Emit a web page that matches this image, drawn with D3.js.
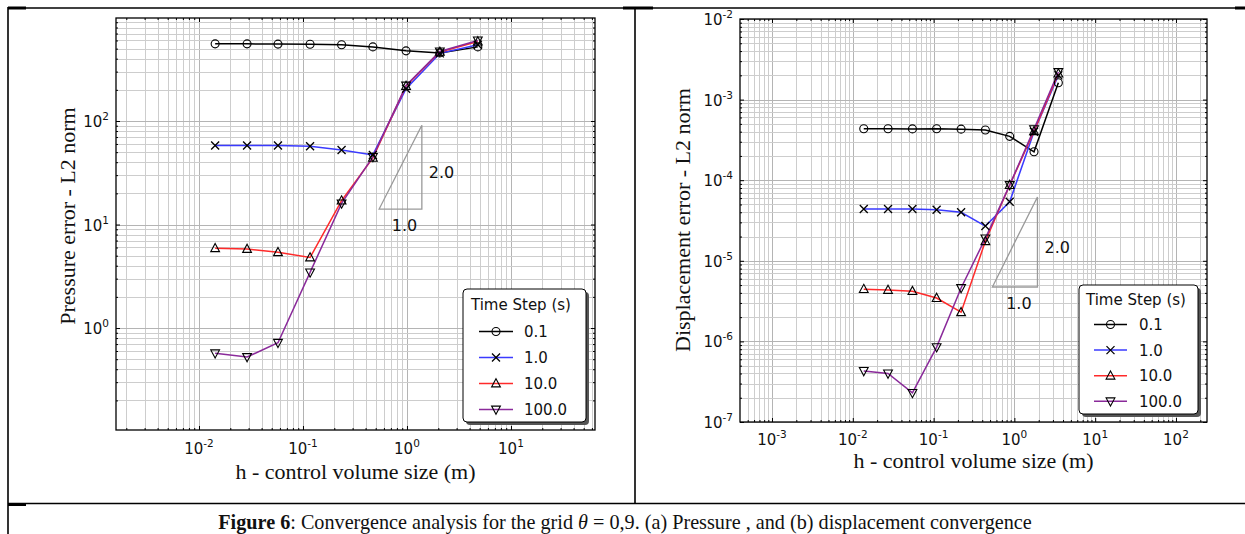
<!DOCTYPE html>
<html>
<head>
<meta charset="utf-8">
<script src="https://cdn.jsdelivr.net/npm/d3@7"></script>
<style>
  body { margin: 0; background: #fff; }
  svg text { font-family: "DejaVu Sans", sans-serif; fill: #111; }
  svg text.serif { font-family: "Liberation Serif", "Times New Roman", serif; }
</style>
</head>
<body>
<svg id="fig" width="1245" height="534"></svg>
<script>
// ---------- data ----------
const seriesNames = ["0.1", "1.0", "10.0", "100.0"];
const seriesColors = ["#000000", "#3a3aff", "#ff2a2a", "#8a2a9a"];
const seriesMarkers = ["circle", "cross", "triUp", "triDown"];

// (a) pressure
const hPressure = [0.0143, 0.029, 0.0575, 0.117, 0.235, 0.47, 0.98, 2.07, 4.8];
const pressure01 = [556, 556, 553, 551, 546, 520, 476, 455, 520];
const pressure1 = [58, 58, 58, 57, 52.5, 47, 205, 450, 545];
const pressure10 = [5.9, 5.8, 5.4, 4.8, 17, 44, 218, 465, 585];
const pressure100 = [0.57, 0.525, 0.72, 3.45, 16, 45, 220, 470, 600];

// (b) displacement
const hDisp = [0.01367, 0.0273, 0.0547, 0.109, 0.219, 0.4375, 0.875, 1.75, 3.5];
const disp01 = [4.35e-4, 4.35e-4, 4.33e-4, 4.35e-4, 4.3e-4, 4.2e-4, 3.5e-4, 2.25e-4, 1.62e-3];
const disp1 = [4.4e-5, 4.4e-5, 4.4e-5, 4.3e-5, 4.0e-5, 2.7e-5, 5.4e-5, 4.0e-4, 2.0e-3];
const disp10 = [4.45e-6, 4.35e-6, 4.2e-6, 3.45e-6, 2.3e-6, 1.75e-5, 8.7e-5, 4.05e-4, 2.1e-3];
const disp100 = [4.3e-7, 4.0e-7, 2.3e-7, 8.5e-7, 4.6e-6, 1.9e-5, 8.7e-5, 4.3e-4, 2.2e-3];

// slope triangles: [x0, x1], [y0, y1]
const slopePressureX = [0.54, 1.39], slopePressureY = [14.1, 91];
const slopeDispX = [0.534, 1.93], slopeDispY = [4.73e-6, 6.2e-5];

const svg = d3.select("#fig");

function drawMarker(sel, type) {
  if (type === "circle") {
    sel.append("circle").attr("r", 4).attr("fill", "none")
      .attr("stroke", "#000").attr("stroke-width", 1.1);
  } else if (type === "cross") {
    sel.append("path").attr("d", "M-4,-4L4,4M-4,4L4,-4")
      .attr("stroke", "#000").attr("stroke-width", 1.3).attr("fill", "none");
  } else if (type === "triUp") {
    sel.append("path").attr("d", "M0,-4.8L4.4,3.4L-4.4,3.4Z")
      .attr("stroke", "#000").attr("stroke-width", 1.1).attr("fill", "none");
  } else {
    sel.append("path").attr("d", "M0,4.8L4.4,-3.4L-4.4,-3.4Z")
      .attr("stroke", "#000").attr("stroke-width", 1.1).attr("fill", "none");
  }
}

function supLabel(sel, v) {
  const e = Math.round(Math.log10(v));
  sel.text(null);
  sel.append("tspan").text("10");
  sel.append("tspan").attr("font-size", 10.5).attr("dy", -7).text(e);
}

function drawPanel(cfg) {
  const b = cfg.box;
  const x = d3.scaleLog().domain(cfg.xDomain).range([b.left, b.right]);
  const y = d3.scaleLog().domain(cfg.yDomain).range([b.bottom, b.top]);
  const isMajor = (v) => Math.abs(Math.log10(v) - Math.round(Math.log10(v))) < 1e-9;

  const g = svg.append("g");
  const xt = x.ticks().filter((v) => x(v) >= b.left - 0.5 && x(v) <= b.right + 0.5);
  const yt = y.ticks().filter((v) => y(v) >= b.top - 0.5 && y(v) <= b.bottom + 0.5);

  // grid
  const grid = g.append("g");
  grid.selectAll(".gx").data(xt).join("line")
    .attr("x1", (d) => Math.round(x(d)) + 0.5).attr("x2", (d) => Math.round(x(d)) + 0.5)
    .attr("y1", b.top).attr("y2", b.bottom)
    .attr("stroke", (d) => (isMajor(d) ? "#b4b4b4" : "#cdcdcd")).attr("stroke-width", 1);
  grid.selectAll(".gy").data(yt).join("line")
    .attr("y1", (d) => Math.round(y(d)) + 0.5).attr("y2", (d) => Math.round(y(d)) + 0.5)
    .attr("x1", b.left).attr("x2", b.right)
    .attr("stroke", (d) => (isMajor(d) ? "#b4b4b4" : "#cdcdcd")).attr("stroke-width", 1);

  // series
  const line = d3.line().x((d) => x(d[0])).y((d) => y(d[1]));
  cfg.series.forEach((vals, i) => {
    const pts = cfg.h.map((h, j) => [h, vals[j]]);
    g.append("path").datum(pts).attr("d", line).attr("fill", "none")
      .attr("stroke", seriesColors[i]).attr("stroke-width", 1.5);
  });
  cfg.series.forEach((vals, i) => {
    const pts = cfg.h.map((h, j) => [h, vals[j]]);
    g.append("g").selectAll("g").data(pts).join("g")
      .attr("transform", (d) => `translate(${x(d[0])},${y(d[1])})`)
      .each(function () { drawMarker(d3.select(this), seriesMarkers[i]); });
  });

  // slope triangle
  const [sx0, sx1] = cfg.slopeX, [sy0, sy1] = cfg.slopeY;
  g.append("path")
    .attr("d", `M${x(sx0)},${y(sy0)}L${x(sx1)},${y(sy0)}L${x(sx1)},${y(sy1)}Z`)
    .attr("fill", "none").attr("stroke", "#9a9a9a").attr("stroke-width", 1.3);
  g.append("text").attr("x", x(sx1) + 7).attr("y", (y(sy0) + y(sy1)) / 2 + 11)
    .attr("font-size", 16).attr("fill", "#333").text("2.0");
  g.append("text").attr("x", (x(sx0) + x(sx1)) / 2 + 4).attr("y", y(sy0) + 22)
    .attr("text-anchor", "middle").attr("font-size", 16).attr("fill", "#333").text("1.0");

  // spines
  g.append("rect").attr("x", b.left).attr("y", b.top)
    .attr("width", b.right - b.left).attr("height", b.bottom - b.top)
    .attr("fill", "none").attr("stroke", "#000").attr("stroke-width", 1.3);

  // ticks via axes (inside, all four sides)
  const xMaj = xt.filter(isMajor), xMin = xt.filter((v) => !isMajor(v));
  const yMaj = yt.filter(isMajor), yMin = yt.filter((v) => !isMajor(v));
  const ax = (axis, vals, size, tr) => {
    const a = g.append("g").attr("transform", tr)
      .call(axis.tickValues(vals).tickSizeInner(size).tickSizeOuter(0).tickFormat(""));
    a.select(".domain").remove();
    a.selectAll("line").attr("stroke", "#000");
    return a;
  };
  ax(d3.axisBottom(x), xMaj, -4, `translate(0,${b.bottom})`);
  ax(d3.axisBottom(x), xMin, -2, `translate(0,${b.bottom})`);
  ax(d3.axisTop(x), xMaj, -4, `translate(0,${b.top})`);
  ax(d3.axisTop(x), xMin, -2, `translate(0,${b.top})`);
  ax(d3.axisLeft(y), yMaj, -4, `translate(${b.left},0)`);
  ax(d3.axisLeft(y), yMin, -2, `translate(${b.left},0)`);
  ax(d3.axisRight(y), yMaj, -4, `translate(${b.right},0)`);
  ax(d3.axisRight(y), yMin, -2, `translate(${b.right},0)`);

  // tick labels
  g.append("g").selectAll("text").data(cfg.xLabels).join("text")
    .attr("x", (d) => x(d)).attr("y", b.bottom + cfg.xLabelDy)
    .attr("text-anchor", "middle").attr("font-size", 15)
    .each(function (d) { supLabel(d3.select(this), d); });
  g.append("g").selectAll("text").data(cfg.yLabels).join("text")
    .attr("x", b.left - 7).attr("y", (d) => y(d) + 6)
    .attr("text-anchor", "end").attr("font-size", 15)
    .each(function (d) { supLabel(d3.select(this), d); });

  // axis titles
  g.append("text").attr("class", "serif")
    .attr("x", (b.left + b.right) / 2).attr("y", cfg.xTitleY)
    .attr("text-anchor", "middle").attr("font-size", 22)
    .text("h - control volume size (m)");
  g.append("text").attr("class", "serif")
    .attr("transform", `translate(${cfg.yTitleX},${cfg.yTitleCy}) rotate(-90)`)
    .attr("text-anchor", "middle").attr("font-size", 22)
    .text(cfg.yTitle);

  // legend
  const L = cfg.legend;
  const lg = g.append("g").attr("transform", `translate(${L.x},${L.y})`);
  lg.append("rect").attr("x", 3).attr("y", 3).attr("width", L.w).attr("height", L.h)
    .attr("rx", 4).attr("fill", "#555");
  lg.append("rect").attr("width", L.w).attr("height", L.h).attr("rx", 4)
    .attr("fill", "#fff").attr("stroke", "#000").attr("stroke-width", 1);
  lg.append("text").attr("x", L.titleX).attr("y", L.titleY).attr("font-size", 15)
    .text("Time Step (s)");
  const rows = lg.selectAll(".row").data(seriesNames).join("g")
    .attr("transform", (d, i) => `translate(0,${L.row0 + i * L.rowStep})`);
  rows.append("line").attr("x1", L.lineX0).attr("x2", L.lineX1)
    .attr("y1", -5.5).attr("y2", -5.5)
    .attr("stroke", (d, i) => seriesColors[i]).attr("stroke-width", 1.5);
  rows.append("g").attr("transform", `translate(${(L.lineX0 + L.lineX1) / 2},-5.5)`)
    .each(function (d, i) { drawMarker(d3.select(this), seriesMarkers[i]); });
  rows.append("text").attr("x", L.textX).attr("font-size", 15).text((d) => d);
}

drawPanel({
  box: { left: 116, top: 18, right: 595, bottom: 430 },
  xDomain: [Math.pow(10, -2.798), Math.pow(10, 1.808)],
  yDomain: [Math.pow(10, -0.985), Math.pow(10, 2.995)],
  h: hPressure,
  series: [pressure01, pressure1, pressure10, pressure100],
  slopeX: slopePressureX, slopeY: slopePressureY,
  xLabels: [1e-2, 1e-1, 1e0, 1e1],
  yLabels: [1e0, 1e1, 1e2],
  xLabelDy: 24,
  xTitleY: 479,
  yTitle: "Pressure error - L2 norm",
  yTitleX: 75, yTitleCy: 216,
  legend: { x: 463, y: 289, w: 123, h: 133, titleX: 8, titleY: 21, row0: 48, rowStep: 26,
            lineX0: 16, lineX1: 50, textX: 61 }
});

drawPanel({
  box: { left: 740, top: 19, right: 1207, bottom: 422 },
  xDomain: [Math.pow(10, -3.396), Math.pow(10, 2.384)],
  yDomain: [1e-7, 1e-2],
  h: hDisp,
  series: [disp01, disp1, disp10, disp100],
  slopeX: slopeDispX, slopeY: slopeDispY,
  xLabels: [1e-3, 1e-2, 1e-1, 1e0, 1e1, 1e2],
  yLabels: [1e-7, 1e-6, 1e-5, 1e-4, 1e-3, 1e-2],
  xLabelDy: 23,
  xTitleY: 468,
  yTitle: "Displacement error - L2 norm",
  yTitleX: 690, yTitleCy: 220,
  legend: { x: 1079, y: 285, w: 119, h: 129, titleX: 7, titleY: 20, row0: 45, rowStep: 25.6,
            lineX0: 15, lineX1: 48, textX: 60 }
});

// ---------- table borders ----------
const border = svg.append("g").attr("stroke", "#000");
border.append("line").attr("x1", 8).attr("x2", 1245).attr("y1", 8).attr("y2", 8).attr("stroke-width", 1.6);
border.append("line").attr("x1", 8).attr("x2", 8).attr("y1", 7).attr("y2", 534).attr("stroke-width", 1.6);
border.append("line").attr("x1", 635).attr("x2", 635).attr("y1", 8).attr("y2", 503).attr("stroke-width", 1.6);
border.append("line").attr("x1", 8).attr("x2", 1245).attr("y1", 503.5).attr("y2", 503.5).attr("stroke-width", 1.6);
[[8, 26, 8], [623, 653, 8], [1235, 1245, 8], [8, 26, 504.5]].forEach(([a, c, yy]) =>
  border.append("line").attr("x1", a).attr("x2", c).attr("y1", yy).attr("y2", yy).attr("stroke-width", 3));

// ---------- caption ----------
const cap = svg.append("text").attr("class", "serif").attr("x", 625).attr("y", 529)
  .attr("text-anchor", "middle").attr("font-size", 20.2);
cap.append("tspan").attr("font-weight", "bold").text("Figure 6");
cap.append("tspan").text(": Convergence analysis for the grid ");
cap.append("tspan").attr("font-style", "italic").text("θ");
cap.append("tspan").text(" = 0,9. (a) Pressure , and (b) displacement convergence");
</script>
</body>
</html>
